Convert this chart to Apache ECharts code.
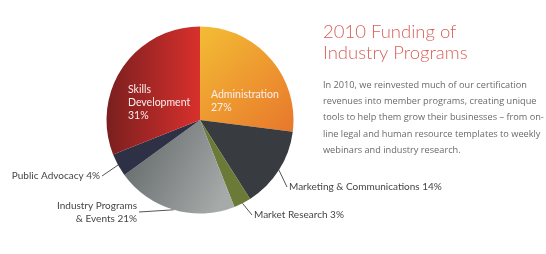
<!DOCTYPE html>
<html><head><meta charset="utf-8">
<script src="https://cdn.jsdelivr.net/npm/echarts@6/dist/echarts.min.js"></script>
<style>html,body{margin:0;padding:0;background:#fff}#c{width:546px;height:254px}</style>
</head><body><div id="c"></div>
<script>
const categories = ['Administration','Marketing & Communications','Market Research','Industry Programs\n& Events','Public Advocacy','Skills\nDevelopment'];
const values = [27,14,3,21,4,31];
const titleLines = ['2010 Funding of','Industry Programs'];
const bodyLines = ['In 2010, we reinvested much of our certification','revenues into member programs, creating unique','tools to help them grow their businesses \u2013 from on-','line legal and human resource templates to weekly','webinars and industry research.'];

const fills = [
  {type:'linear',x:0,y:0,x2:1,y2:1,colorStops:[{offset:0,color:'#f3bd35'},{offset:1,color:'#e8772b'}]},
  '#383b40',
  '#6b7a37',
  {type:'linear',x:0,y:0,x2:1,y2:0.6,colorStops:[{offset:0,color:'#5d6264'},{offset:1,color:'#a6aaa9'}]},
  '#2e3146',
  {type:'linear',x:0,y:0,x2:1,y2:0,colorStops:[{offset:0,color:'#7a1f1f'},{offset:1,color:'#d8302c'}]}
];
const inside = [true,false,false,false,false,true];
// label anchor placement (layout only)
const labelPlace = [
  {x:211, y:101, align:'left'},
  {x:287, y:187, align:'left'},
  {x:252, y:215, align:'left'},
  {x:139, y:212, align:'right'},
  {x:102, y:176, align:'right'},
  {x:128, y:103, align:'left'}
];

const chart = echarts.init(document.getElementById('c'), null, {renderer:'canvas'});
const data = categories.map((c,i)=>({
  name:c, value:values[i],
  itemStyle:{color:fills[i]},
  label: inside[i] ? {position:'inside', color:'#fbeeee', fontSize:10.5, lineHeight:13,
      formatter: p => p.name + '\n' + p.value + '%'} :
    {position:'outside', color:'#444', fontSize:10, lineHeight:13, padding:[0,2],
      formatter: p => p.name + ' ' + p.value + '%'},
  labelLine:{show:!inside[i]}
}));
chart.setOption({
  animation:false,
  graphic:[
    {type:'text', left:323, top:22, style:{text:titleLines.join('\n'), fill:'#d8615b', font:'300 18.5px Lato', lineHeight:20.5}},
    {type:'text', left:323, top:77, style:{text:bodyLines.join('\n'), fill:'#6a6a6a', font:'9.2px "Open Sans"', lineHeight:16.3}}
  ],
  series:[{
    type:'pie', center:[200,120], radius:[0,93.5], startAngle:90, clockwise:true,
    avoidLabelOverlap:false,
    label:{fontFamily:'Lato'},
    labelLine:{length:0, length2:0, lineStyle:{color:'#555', width:1}},
    labelLayout: p => { const q = labelPlace[p.dataIndex]; return {x:q.x, y:q.y, align:q.align, verticalAlign:'middle'}; },
    data:data
  }]
});
</script></body></html>
